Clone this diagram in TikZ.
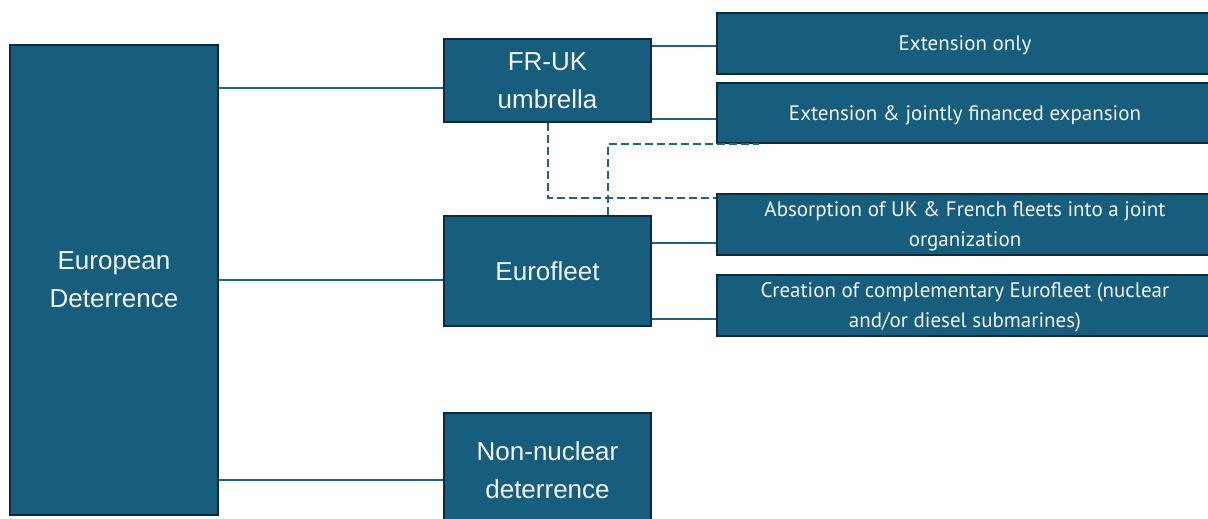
\documentclass[tikz,border=0pt]{standalone}
\usepackage{fontspec}
\setmainfont{Liberation Sans}
\newfontfamily\optfont{PT Sans}
\usepackage{xcolor}
\usepackage{tikz}
\usetikzlibrary{arrows.meta,positioning}

\definecolor{boxblue}{HTML}{175E7E}
\definecolor{boxedge}{HTML}{0B2B3C}
\definecolor{linkblue}{HTML}{1F6486}
\definecolor{textwhite}{HTML}{F4F4F4}

\begin{document}
\begin{tikzpicture}[
    x=1pt, y=-1pt,
    node distance=10pt,
    bigbox/.style={rectangle, minimum width=208pt, minimum height=470pt, align=center, text depth=0pt, draw=boxedge, line width=2.5pt, fill=boxblue, text=textwhite, font=\fontsize{26}{38}\selectfont},
    midbox/.style={rectangle, minimum width=207pt, align=center, text depth=0pt, draw=boxedge, line width=2.5pt, fill=boxblue, text=textwhite, font=\fontsize{26}{38}\selectfont},
    optbox/.style={rectangle, minimum width=496pt, minimum height=61pt, inner sep=0pt, align=center, text depth=-1pt, draw=boxedge, line width=2.5pt, fill=boxblue, text=textwhite, font=\optfont\fontsize{21}{30}\selectfont},
    link/.style={linkblue, line width=2pt},
    dashlink/.style={linkblue, line width=2pt, dash pattern=on 8pt off 4pt}
]
\useasboundingbox (0,0) rectangle (1208,519);

\node (euro) [bigbox] at (114,280) {European\\Deterrence};
\node (fruk) [midbox, minimum height=83pt] at (547.5,80.5) {FR-UK\\umbrella};
\node (fleet) [midbox, minimum height=110pt] at (547.5,271) {Eurofleet};
\node (nonnuc) [midbox, minimum height=114pt] at (547.5,470) {Non-nuclear\\deterrence};

\node (ext1) [optbox] at (965,43.5) {Extension only};
\node (ext2) [optbox, minimum height=60pt, below=6.5pt of ext1] {Extension \& jointly financed expansion};
\node (absorb) [optbox, below=48.5pt of ext2] {Absorption of UK \& French fleets into a joint\\organization};
\node (create) [optbox, below=17.5pt of absorb] {Creation of complementary Eurofleet (nuclear\\and/or diesel submarines)};

\draw [link] ([yshift=-7.5pt]fruk.west) -- ([yshift=-7.5pt]fruk.west -| euro.east);
\draw [link] ([yshift=-9pt]fleet.west) -- ([yshift=-9pt]fleet.west -| euro.east);
\draw [link] ([yshift=-10pt]nonnuc.west) -- ([yshift=-10pt]nonnuc.west -| euro.east);

\draw [link] ([yshift=-2.5pt]ext1.west) -- ([yshift=-2.5pt]ext1.west -| fruk.east);
\draw [link] ([yshift=-6pt]ext2.west) -- ([yshift=-6pt]ext2.west -| fruk.east);
\draw [link] ([yshift=-18pt]absorb.west) -- ([yshift=-18pt]absorb.west -| fleet.east);
\draw [link] ([yshift=-13.5pt]create.west) -- ([yshift=-13.5pt]create.west -| fleet.east);

\draw [dashlink] (fruk.south) |- ([yshift=-5pt]absorb.north west);
\draw [dashlink] ([xshift=60pt]fleet.north) |- ([xshift=43pt]ext2.south west);

\end{tikzpicture}
\end{document}
